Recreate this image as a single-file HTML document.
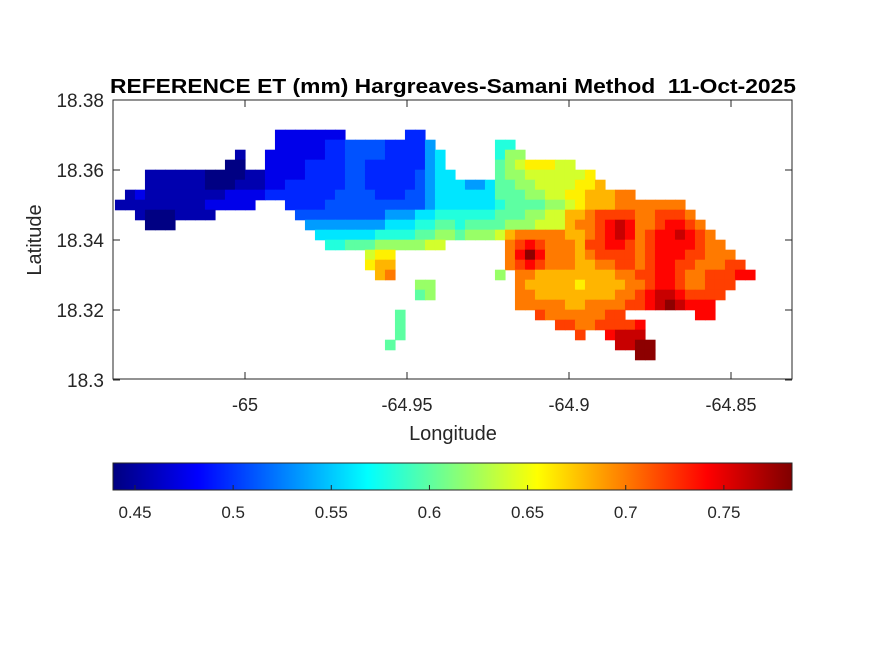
<!DOCTYPE html>
<html><head><meta charset="utf-8"><style>
body{margin:0;background:#fff;width:875px;height:656px;overflow:hidden}
svg text{font-family:"Liberation Sans",Arial,sans-serif;fill:#262626}
</style></head><body>
<svg id="fig" width="875" height="656" viewBox="0 0 875 656" xmlns="http://www.w3.org/2000/svg">
<rect width="875" height="656" fill="#fff"/>
<text x="453" y="93" text-anchor="middle" font-size="20" font-weight="bold" textLength="686" lengthAdjust="spacingAndGlyphs" style="fill:#000" xml:space="preserve">REFERENCE ET (mm) Hargreaves-Samani Method  11-Oct-2025</text>
<g id="map"></g>
<rect x="113" y="100" width="679" height="279" fill="none" stroke="#262626" stroke-width="1"/>
<g id="axes"></g>
<text x="453" y="440" text-anchor="middle" font-size="20">Longitude</text>
<text transform="translate(41,240) rotate(-90)" text-anchor="middle" font-size="20">Latitude</text>
<defs><linearGradient id="jetg" x1="0" x2="1" y1="0" y2="0"></linearGradient></defs>
<rect x="113" y="463" width="679" height="27" fill="url(#jetg)" stroke="#262626" stroke-width="1"/>
<g id="cbar"></g>
</svg>
<script>
// Data grid: each char is a level; '.' = no data
const levelChars = "0123456789ABCDEFGH";
const levelValues = [0.44,0.455,0.475,0.495,0.51,0.535,0.56,0.58,0.60,0.62,0.64,0.66,0.68,0.70,0.72,0.74,0.76,0.78];
const gridLon0 = -65.0385, gridDLon = 0.0030864;
const gridLat0 = 18.37, gridDLat = -0.0028571;
const D = n => ".".repeat(n);
const gridRows = [
  D(16)+"2222222"+D(6)+"33"+D(33),
  D(16)+"22222334444333"+"35"+D(6)+"77"+D(24),
  D(12)+"1"+D(2)+"222222334444"+"333356"+D(5)+"799"+D(23),
  D(11)+"00"+D(2)+"222233"+"33"+"44"+"33333"+"356"+D(5)+"89ABBBAA"+D(18),
  D(3)+"111111"+"0000"+"11"+"222233"+"33"+"44"+"33333"+"4566"+D(4)+"899AAAAAAB"+D(16),
  D(3)+"111111"+"000"+"111"+"223333"+"33"+"44"+"33333"+"4566"+"6556"+"8899AAAABBC"+D(15),
  D(1)+"12"+"111111"+"11222"+"2"+"333333"+"34"+"44"+"43334"+"4"+"566"+"6666"+"88899AABBCC"+"CDD"+D(12),
  "11111111122222"+D(3)+"3333"+"44"+"44"+"44444"+"4"+"566"+"6666"+"7888899ABCC"+"CDD"+"DDDDD"+D(7),
  D(2)+"10001111"+D(8)+"444"+"4444"+"44555"+"6677"+"7777"+"88899AACCDE"+"EEE"+"DDEEED"+D(6),
  D(3)+"000"+D(13)+"55"+"5555"+"55666"+"7788"+"7888"+"8999AAACDDE"+"FGF"+"DDEFFED"+D(5),
  D(20)+"6"+"6666"+"67777"+"8899"+"8999"+"ACDDDDDCCDE"+"FGF"+"DEFFGFED"+D(4),
  D(21)+"7788"+"89999"+"9AA"+D(6)+"DEFEDDDCEE"+"FFE"+"DEFFFFEDD"+D(3),
  D(25)+"ABB"+D(11)+"DFHFDDDCDE"+"EEE"+"DEFFFEEDDD"+D(2),
  D(25)+"BCC"+D(11)+"DEFEDDDCCD"+"DEE"+"DEFFEEDDDEE"+D(1),
  D(26)+"CD"+D(10)+"9"+D(1)+"DDCCCCCCC"+"CDD"+"EEFFEDDEEEFF",
  D(30)+"99"+D(8)+"DCCCCCBCC"+"CCD"+"DEFFEDDEEE"+D(2),
  D(30)+"89"+D(8)+"DDCCCCCCC"+"CDD"+"EFGGFEEEE"+D(3),
  D(40)+"DDDDDCCDD"+"DDE"+"EFGHGFFF"+D(4),
  D(28)+"8"+D(13)+"EDDDDDDEE"+D(7)+"FF"+D(4),
  D(28)+"8"+D(15)+"EEDDEEEEF"+D(11),
  D(28)+"8"+D(17)+"E..FGGG"+D(11),
  D(27)+"8"+D(22)+"GGHH"+D(10),
  D(52)+"HH"+D(10)
];
const xTicks = [-65, -64.95, -64.9, -64.85];
const xTickLabels = ["-65", "-64.95", "-64.9", "-64.85"];
const yTicks = [18.38, 18.36, 18.34, 18.32, 18.3];
const yTickLabels = ["18.38", "18.36", "18.34", "18.32", "18.3"];
const cTicks = [0.45, 0.5, 0.55, 0.6, 0.65, 0.7, 0.75];
const cTickLabels = ["0.45", "0.5", "0.55", "0.6", "0.65", "0.7", "0.75"];
const cMin = 0.4388, cMax = 0.7847;

const NS = "http://www.w3.org/2000/svg";
const xS = lon => 245 + (lon + 65) / 0.05 * 162;
const yS = lat => 100 + (18.38 - lat) / 0.01 * 35;
const cS = v => 113 + (v - cMin) / (cMax - cMin) * 679;
function jet(t){
  t = Math.max(0, Math.min(1, t));
  const f = x => Math.max(0, Math.min(1, x));
  const r = f(Math.min(4*t-1.5, -4*t+4.5));
  const g = f(Math.min(4*t-0.5, -4*t+3.5));
  const b = f(Math.min(4*t+0.5, -4*t+2.5));
  return `rgb(${Math.round(r*255)},${Math.round(g*255)},${Math.round(b*255)})`;
}
const colorOf = v => jet((v - cMin) / (cMax - cMin));
function mk(tag, attrs, parent){const e=document.createElementNS(NS,tag);for(const k in attrs)e.setAttribute(k,attrs[k]);parent.appendChild(e);return e;}

const map = document.getElementById('map');
gridRows.forEach((row, r) => {
  for (let c = 0; c < row.length; c++) {
    const ch = row[c]; if (ch === '.') continue;
    const v = levelValues[levelChars.indexOf(ch)];
    const lon = gridLon0 + c * gridDLon, lat = gridLat0 + r * gridDLat;
    const x0 = xS(lon - gridDLon/2), x1 = xS(lon + gridDLon/2);
    const y0 = yS(lat - gridDLat/2), y1 = yS(lat + gridDLat/2);
    const e = mk('rect', {x:Math.min(x0,x1)-0.3, y:Math.min(y0,y1)-0.3, width:Math.abs(x1-x0)+0.6, height:Math.abs(y1-y0)+0.6, fill:colorOf(v)}, map);
    
    
  }
});

const axes = document.getElementById('axes');
xTicks.forEach((t, i) => {
  const x = xS(t);
  mk('line', {x1:x, x2:x, y1:379, y2:372, stroke:'#262626'}, axes);
  mk('line', {x1:x, x2:x, y1:100, y2:107, stroke:'#262626'}, axes);
  const tx = mk('text', {x:x, y:411, 'text-anchor':'middle', 'font-size':18}, axes);
  tx.textContent = xTickLabels[i];
  
  
});
yTicks.forEach((t, i) => {
  const y = yS(t);
  mk('line', {x1:113, x2:120, y1:y, y2:y, stroke:'#262626'}, axes);
  mk('line', {x1:792, x2:785, y1:y, y2:y, stroke:'#262626'}, axes);
  const tx = mk('text', {x:104, y:y+7, 'text-anchor':'end', 'font-size':19}, axes);
  tx.textContent = yTickLabels[i];
  
  
});

const grad = document.getElementById('jetg');
for (let i = 0; i <= 64; i++) mk('stop', {offset:(i/64), 'stop-color':jet(i/64)}, grad);
const cbar = document.getElementById('cbar');
cTicks.forEach((t, i) => {
  const x = cS(t);
  mk('line', {x1:x, x2:x, y1:490, y2:485, stroke:'#262626'}, cbar);
  const tx = mk('text', {x:x, y:518, 'text-anchor':'middle', 'font-size':17}, cbar);
  tx.textContent = cTickLabels[i];
  
  
});
</script>
</body></html>
